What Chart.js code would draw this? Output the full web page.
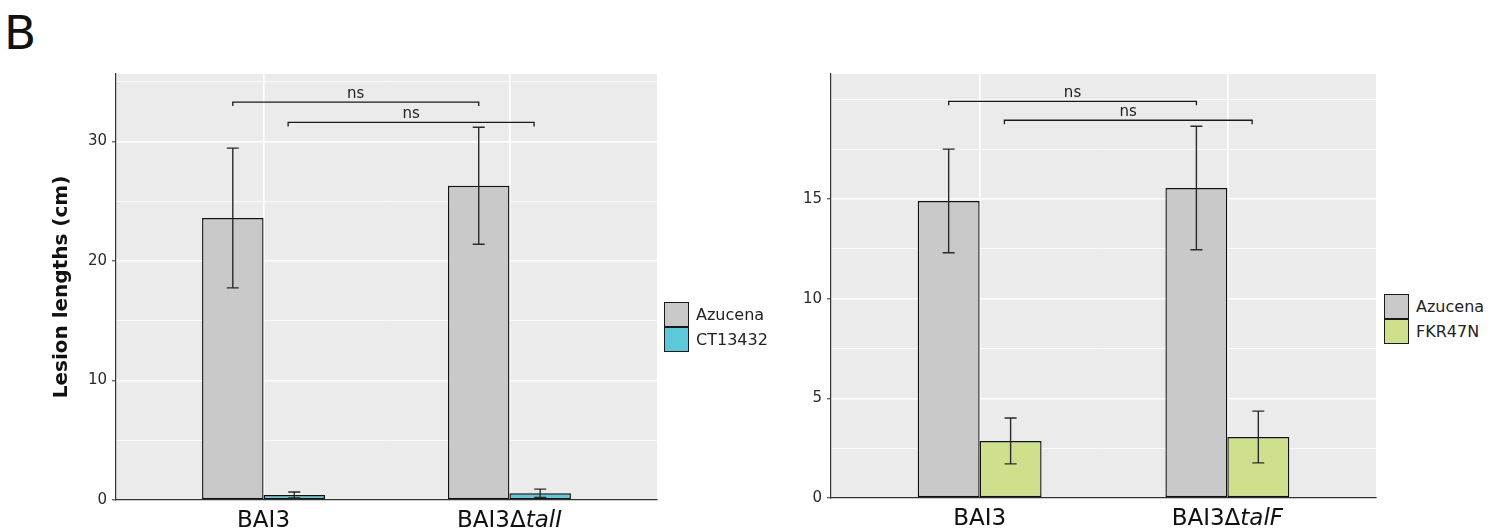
<!DOCTYPE html>
<html>
<head>
<meta charset="utf-8">
<script src="https://cdn.jsdelivr.net/npm/chart.js@4.4.1/dist/chart.umd.min.js"></script>
<style>
  body { margin: 0; background: #fff; width: 1503px; height: 531px; overflow: hidden; position: relative; font-family: "DejaVu Sans", sans-serif; }
  canvas { position: absolute; top: 0; }
  #panelB { position: absolute; left: 4px; top: 9px; font-size: 47px; line-height: 47px; color: #111; }
  .legend { position: absolute; font-size: 16px; color: #222; }
  .legend .item { display: flex; align-items: center; height: 25px; }
  .legend .key { width: 25px; height: 25px; box-sizing: border-box; border: 1.3px solid #1a1a1a; margin-right: 7px; }
</style>
</head>
<body>
<div id="panelB">B</div>
<canvas id="chartL" width="660" height="531" style="left:0"></canvas>
<canvas id="chartR" width="622" height="531" style="left:760px"></canvas>
<div class="legend" id="legendL" style="left:664px;top:302px"></div>
<div class="legend" id="legendR" style="left:1384px;top:294px"></div>
<script>
// left panel: BAI3 vs BAI3ΔtalI
const strainsL = ["BAI3", "BAI3ΔtalI"];
const azucenaL = [23.6, 26.3];
const azucenaErrL = [5.85, 4.9];
const ct13432 = [0.42, 0.56];
const ct13432Err = [0.25, 0.35];
const yTicksL = [0, 10, 20, 30];
// brackets (x in category units, y in cm)
const sigFromL = [0.875, 1.1];
const sigToL = [1.875, 2.1];
const sigAtL = [33.3, 31.6];
const sigTextL = ["ns", "ns"];

// right panel: BAI3 vs BAI3ΔtalF
const strainsR = ["BAI3", "BAI3ΔtalF"];
const azucenaR = [14.9, 15.55];
const azucenaErrR = [2.6, 3.1];
const fkr47n = [2.86, 3.06];
const fkr47nErr = [1.15, 1.3];
const yTicksR = [0, 5, 10, 15];
const sigFromR = [0.875, 1.1];
const sigToR = [1.875, 2.1];
const sigAtR = [19.9, 18.95];
const sigTextR = ["ns", "ns"];

const GREY = "#C9C9C9", CYAN = "#5CC8DA", GREEN = "#CFE08C";
const FONT = '"DejaVu Sans", sans-serif';

const panelBg = {
  id: "panelBg",
  beforeDraw(chart) {
    const { ctx, chartArea: a } = chart;
    ctx.save();
    ctx.fillStyle = "#EBEBEB";
    ctx.fillRect(a.left, a.top, a.right - a.left, a.bottom - a.top);
    ctx.restore();
  }
};

function makeChart(id, s) {
  const extras = {
    id: "extras",
    afterDatasetsDraw(chart) {
      const ctx = chart.ctx, xs = chart.scales.x, ys = chart.scales.y;
      ctx.save();
      // error bars
      ctx.strokeStyle = "#2a2a2a";
      ctx.lineWidth = 1.4;
      s.errs.forEach((errs, d) => {
        const meta = chart.getDatasetMeta(d);
        meta.data.forEach((bar, i) => {
          const m = s.series[d][i];
          const hi = ys.getPixelForValue(m + errs[i]), lo = ys.getPixelForValue(m - errs[i]);
          ctx.beginPath();
          ctx.moveTo(bar.x, hi); ctx.lineTo(bar.x, lo);
          ctx.moveTo(bar.x - 6, hi); ctx.lineTo(bar.x + 6, hi);
          ctx.moveTo(bar.x - 6, lo); ctx.lineTo(bar.x + 6, lo);
          ctx.stroke();
        });
      });
      // significance brackets
      ctx.strokeStyle = "#1a1a1a";
      ctx.lineWidth = 1.3;
      ctx.fillStyle = "#222";
      ctx.font = "15px " + FONT;
      ctx.textAlign = "center";
      ctx.textBaseline = "alphabetic";
      s.sigFrom.forEach((x0, k) => {
        const a = xs.getPixelForValue(x0), b = xs.getPixelForValue(s.sigTo[k]);
        const y = ys.getPixelForValue(s.sigAt[k]);
        ctx.beginPath();
        ctx.moveTo(a, y + 4); ctx.lineTo(a, y); ctx.lineTo(b, y); ctx.lineTo(b, y + 4);
        ctx.stroke();
        ctx.fillText(s.sigText[k], (a + b) / 2, y - 4);
      });
      ctx.restore();
    },
    afterDraw(chart) {
      // category labels, gene name in italics
      const ctx = chart.ctx, xs = chart.scales.x;
      const base = chart.chartArea.bottom + 27;
      ctx.save();
      ctx.fillStyle = "#111";
      ctx.textAlign = "left";
      ctx.textBaseline = "alphabetic";
      s.cats.forEach((lab, i) => {
        const k = lab.indexOf("Δ");
        const plain = k < 0 ? lab : lab.slice(0, k + 1);
        const ital = k < 0 ? "" : lab.slice(k + 1);
        ctx.font = "23px " + FONT;
        const w1 = ctx.measureText(plain).width;
        ctx.font = "italic 23px " + FONT;
        const w2 = ctx.measureText(ital).width;
        const x = xs.getPixelForValue(i + 1) - (w1 + w2) / 2;
        ctx.font = "23px " + FONT;
        ctx.fillText(plain, x, base);
        ctx.font = "italic 23px " + FONT;
        ctx.fillText(ital, x + w1, base);
      });
      ctx.restore();
    }
  };

  return new Chart(document.getElementById(id), {
    type: "bar",
    data: {
      datasets: s.series.map((vals, d) => ({
        label: s.names[d],
        data: vals.map((v, i) => ({ x: i + 1, y: v })),
        backgroundColor: s.colors[d],
        borderColor: "#111",
        borderWidth: 1.4,
        borderSkipped: false,
        categoryPercentage: 0.5,
        barPercentage: 1.0
      }))
    },
    options: {
      responsive: false,
      animation: false,
      layout: { padding: { top: 74, left: 0, right: s.padRight, bottom: 0 } },
      plugins: { legend: { display: false }, tooltip: { enabled: false } },
      scales: {
        x: {
          type: "linear",
          min: 0.4,
          max: 2.6,
          offset: false,
          afterBuildTicks: (sc) => { sc.ticks = s.cats.map((c, i) => ({ value: i + 1 })); },
          afterFit: (sc) => { sc.height = s.xHeight; },
          ticks: { display: false },
          grid: { color: "#fff", lineWidth: 1.6, drawTicks: false, offset: false },
          border: { display: true, color: "#333", width: 1.2 }
        },
        y: {
          min: 0,
          max: s.yMax,
          afterFit: (sc) => { sc.width = s.yWidth; },
          ticks: {
            stepSize: s.step,
            includeBounds: false,
            autoSkip: false,
            padding: 5,
            color: "#2a2a2a",
            font: { family: FONT, size: 15 },
            callback: (v) => (s.yTicks.includes(v) ? String(v) : "")
          },
          grid: {
            color: "#fff",
            lineWidth: (c) => (c.tick && s.yTicks.includes(c.tick.value) ? 1.6 : 0.8),
            tickColor: (c) => (c.tick && s.yTicks.includes(c.tick.value) ? "#333" : "rgba(0,0,0,0)"),
            tickLength: 4,
            tickWidth: 1
          },
          border: { display: true, color: "#333", width: 1.2 },
          title: s.yTitle
            ? { display: true, text: s.yTitle, color: "#111", font: { family: FONT, size: 20, weight: "bold" }, padding: { top: 50, bottom: 0 } }
            : { display: false }
        }
      }
    },
    plugins: [panelBg, extras]
  });
}

function makeLegend(id, names, colors) {
  const el = document.getElementById(id);
  names.forEach((n, i) => {
    const row = document.createElement("div");
    row.className = "item";
    const key = document.createElement("span");
    key.className = "key";
    key.style.background = colors[i];
    const txt = document.createElement("span");
    txt.textContent = n;
    row.appendChild(key);
    row.appendChild(txt);
    el.appendChild(row);
  });
}

makeChart("chartL", {
  cats: strainsL,
  series: [azucenaL, ct13432],
  errs: [azucenaErrL, ct13432Err],
  names: ["Azucena", "CT13432"],
  colors: [GREY, CYAN],
  yTicks: yTicksL, step: 5, yMax: 35.65,
  yWidth: 116, xHeight: 31, padRight: 3,
  yTitle: "Lesion lengths (cm)",
  sigFrom: sigFromL, sigTo: sigToL, sigAt: sigAtL, sigText: sigTextL
});

makeChart("chartR", {
  cats: strainsR,
  series: [azucenaR, fkr47n],
  errs: [azucenaErrR, fkr47nErr],
  names: ["Azucena", "FKR47N"],
  colors: [GREY, GREEN],
  yTicks: yTicksR, step: 2.5, yMax: 21.27,
  yWidth: 71, xHeight: 33, padRight: 6,
  yTitle: null,
  sigFrom: sigFromR, sigTo: sigToR, sigAt: sigAtR, sigText: sigTextR
});

makeLegend("legendL", ["Azucena", "CT13432"], [GREY, CYAN]);
makeLegend("legendR", ["Azucena", "FKR47N"], [GREY, GREEN]);
</script>
</body>
</html>
